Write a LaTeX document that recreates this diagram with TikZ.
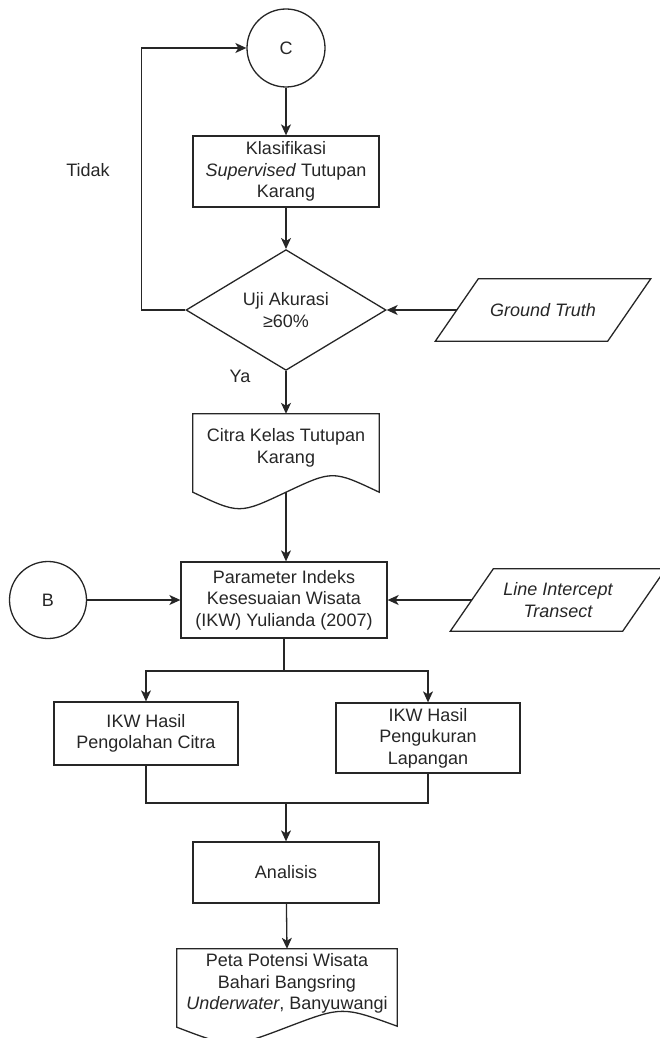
\documentclass[tikz,border=0pt]{standalone}
\usepackage{fontspec}
\setmainfont{Liberation Sans}
\usetikzlibrary{shapes.geometric,arrows.meta,calc}
\begin{document}
\begin{tikzpicture}[x=1pt,y=-1pt,
  font=\fontsize{18}{21.5}\selectfont,
  every node/.style={text=black!85},
  line/.style={line width=1.3pt,draw=black!85},
  arr/.style={line,-{Stealth[length=11pt,width=10pt,inset=3pt]}},
  box/.style={line,rectangle,align=center,inner sep=2pt},
  conn/.style={line,circle,inner sep=0pt,minimum size=78pt},
  decision/.style={line,diamond,align=center,inner sep=0pt,minimum width=200pt,minimum height=92pt},
  dataio/.style={rectangle,minimum width=172pt,minimum height=62pt,inner sep=0pt,align=center,
     font=\fontsize{18}{21.5}\selectfont\itshape},
  docnode/.style={rectangle,align=center,inner sep=0pt}
]
\useasboundingbox (0,0) rectangle (659,1038);

% nodes
\node[conn] (C) at (286,48) {C};
\node[box,minimum width=186pt,minimum height=71pt] (klas) at (286,171.5) {Klasifikasi\\\textit{Supervised} Tutupan\\Karang};
\node[decision] (uji) at (286,310) {Uji Akurasi\\≥60\%};
\node[dataio] (gt) at (543,310) {Ground Truth};
\node[docnode,minimum width=186pt,minimum height=68pt] (citra) at (286,448) {Citra Kelas Tutupan\\Karang};
\node[box,minimum width=206pt,minimum height=76pt] (param) at (284,600) {Parameter Indeks\\Kesesuaian Wisata\\(IKW) Yulianda (2007)};
\node[conn,minimum size=77pt] (B) at (48,600) {B};
\node[dataio] (lit) at (558,600) {Line Intercept\\Transect};
\node[box,minimum width=184pt,minimum height=63pt] (ikw1) at (146,733.5) {IKW Hasil\\Pengolahan Citra};
\node[box,minimum width=184pt,minimum height=70pt] (ikw2) at (428,738) {IKW Hasil\\Pengukuran\\Lapangan};
\node[box,minimum width=186pt,minimum height=61pt] (anal) at (286,872.5) {Analisis};
\node[docnode,minimum width=220pt,minimum height=69pt] (peta) at (287,983.5) {Peta Potensi Wisata\\Bahari Bangsring\\\textit{Underwater}, Banyuwangi};

% parallelogram outlines
\foreach \p in {gt,lit}{
  \draw[line] ($(\p.south west)+(-21.5,0)$) -- ($(\p.north west)+(21.5,0)$)
    -- ($(\p.north east)+(21.5,0)$) -- ($(\p.south east)+(-21.5,0)$) -- cycle;
}

% document outlines
\draw[line] (citra.north west) -- (citra.north east) -- ($(citra.south east)+(0,10)$)
  .. controls ($(citra.south east)+(-46.5,-12)$) .. ($(citra.south)+(0,10)$)
  .. controls ($(citra.south west)+(46.5,32)$) .. ($(citra.south west)+(0,10)$) -- cycle;
\draw[line] (peta.north west) -- (peta.north east) -- ($(peta.south east)+(0,8)$)
  .. controls ($(peta.south east)+(-55,-12)$) .. ($(peta.south)+(0,9)$)
  .. controls ($(peta.south west)+(55,30)$) .. ($(peta.south west)+(0,9)$) -- cycle;

\coordinate (citrab) at ($(citra.south)+(0,10)$);
\coordinate (split) at (284,671);
\coordinate (merge) at (286,803);

% connectors
\draw[arr] (C) -- (klas);
\draw[arr] (klas) -- (uji);
\draw[arr] (uji.west) -- ++(-44,0) |- (C.west);
\draw[arr] (gt.west) -- (uji.east);
\draw[arr] (uji.south) -- (citra.north);
\draw[arr] (citrab) -- (param.north -| citrab);
\draw[arr] (B) -- (param);
\draw[arr] (lit.west) -- (param.east);
\draw[line] (param.south) -- (split);
\draw[arr] (split) -| (ikw1.north);
\draw[arr] (split) -| (ikw2.north);
\draw[line] (ikw1.south) |- (merge) -| (ikw2.south);
\draw[arr] (merge) -- (anal.north);
\draw[arr] (anal) -- (peta.north);

% labels
\node (tidak) at (88,170) {Tidak};
\node (ya) at (240,376) {Ya};
\end{tikzpicture}
\end{document}
